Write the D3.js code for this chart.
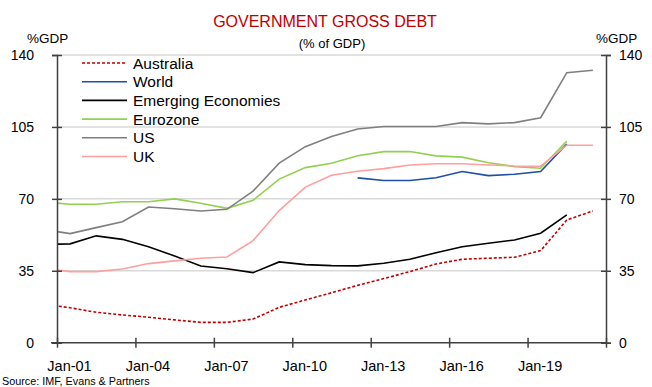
<!DOCTYPE html>
<html>
<head>
<meta charset="utf-8">
<script src="https://cdn.jsdelivr.net/npm/d3@7"></script>
<style>
  body { margin: 0; background: #fff; }
  text { font-family: "Liberation Sans", Arial, sans-serif; fill: #000; }
  .grid line { stroke: #d9d9d9; stroke-width: 1.5; }
  .axis path, .axis line { stroke: #404040; stroke-width: 1.5; }
  .series { fill: none; stroke-width: 1.6; }
</style>
</head>
<body>
<script>
// years (plotted at mid-year)
var years = d3.range(2000, 2022);

// % of GDP, one value per year (null = no data)
var australia = [18.8, 17.0, 14.8, 13.5, 12.4, 11.1, 9.9, 9.9, 11.5, 17.2, 20.8, 24.3, 27.9, 31.2, 34.6, 38.3, 40.6, 41.1, 41.6, 44.8, 59.7, 64.1];
var world = [null, null, null, null, null, null, null, null, null, null, null, null, 80.2, 78.9, 78.9, 80.3, 83.3, 81.3, 82.0, 83.3, 96.7, null];
var emerging = [47.8, 48.1, 52.0, 50.3, 46.7, 42.2, 37.3, 36.0, 34.1, 39.3, 38.0, 37.5, 37.4, 38.7, 40.6, 43.8, 46.7, 48.4, 50.0, 53.3, 62.2, null];
var eurozone = [68.4, 67.4, 67.4, 68.6, 68.6, 70.0, 67.9, 65.4, 69.3, 79.6, 85.2, 87.3, 91.0, 93.0, 93.0, 90.9, 90.3, 87.6, 85.7, 84.9, 98.1, null];
var us = [55.0, 53.1, 56.0, 58.9, 66.0, 65.2, 64.1, 64.9, 73.8, 87.4, 95.4, 100.3, 104.0, 105.2, 105.2, 105.2, 107.1, 106.5, 107.1, 109.5, 131.4, 132.6];
var uk = [36.2, 34.6, 34.6, 35.9, 38.5, 39.8, 41.1, 41.7, 49.7, 64.3, 75.7, 81.5, 83.4, 84.7, 86.5, 87.1, 87.1, 86.5, 86.0, 85.9, 96.1, 96.1];

var seriesNames = ["Australia", "World", "Emerging Economies", "Eurozone", "US", "UK"];
var seriesValues = [australia, world, emerging, eurozone, us, uk];
var seriesColors = ["#c00000", "#1f4ea5", "#000000", "#92d050", "#7f7f7f", "#ff9f9f"];

var yTicks = [0, 35, 70, 105, 140];
var xTickYears = [2001, 2004, 2007, 2010, 2013, 2016, 2019, 2022];
var xLabels = ["Jan-01", "Jan-04", "Jan-07", "Jan-10", "Jan-13", "Jan-16", "Jan-19", ""];

var width = 652, height = 387;
var plotLeft = 57, plotRight = 606, plotTop = 55, plotBottom = 342.7;

var svg = d3.select("body").append("svg")
    .attr("width", width)
    .attr("height", height);

var x = d3.scaleLinear().domain([2001, 2022]).range([plotLeft, plotRight]);
var y = d3.scaleLinear().domain([0, 140]).range([plotBottom, plotTop]);

// title
svg.append("text")
    .attr("x", 325).attr("y", 27)
    .attr("text-anchor", "middle")
    .style("font-size", "16px")
    .style("fill", "#c00000")
    .text("GOVERNMENT GROSS DEBT");
svg.append("text")
    .attr("x", 332).attr("y", 48)
    .attr("text-anchor", "middle")
    .style("font-size", "13px")
    .text("(% of GDP)");

svg.append("text").attr("x", 27).attr("y", 43).style("font-size", "13.5px").text("%GDP");
svg.append("text").attr("x", 596).attr("y", 43).style("font-size", "13.5px").text("%GDP");

// gridlines
svg.append("g").attr("class", "grid")
    .selectAll("line")
    .data(yTicks.slice(1))
    .enter().append("line")
    .attr("x1", plotLeft).attr("x2", plotRight)
    .attr("y1", function(d){ return y(d); })
    .attr("y2", function(d){ return y(d); });

// clip to plot area
svg.append("clipPath").attr("id", "plot")
    .append("rect")
    .attr("x", plotLeft).attr("y", 0)
    .attr("width", plotRight - plotLeft).attr("height", height);

var line = d3.line()
    .defined(function(d){ return d != null; })
    .x(function(d, i){ return x(years[i] + 0.5); })
    .y(function(d){ return y(d); });

var lines = svg.append("g").attr("clip-path", "url(#plot)");
seriesValues.forEach(function(vals, i){
    lines.append("path")
        .datum(vals)
        .attr("class", "series")
        .attr("d", line)
        .style("stroke", seriesColors[i])
        .style("stroke-dasharray", i == 0 ? "3,2" : null);
});

// axes
var yLeft = d3.axisLeft(y).tickValues(yTicks).tickSize(5).tickPadding(18);
svg.append("g").attr("class", "axis")
    .attr("transform", "translate(" + plotLeft + ",0)")
    .call(yLeft)
    .call(function(g){
        g.selectAll(".tick line").attr("x2", -5).attr("x1", 5);
        g.selectAll("text").style("font-size", "14px");
    });

var yRight = d3.axisRight(y).tickValues(yTicks).tickSize(5).tickPadding(8);
svg.append("g").attr("class", "axis")
    .attr("transform", "translate(" + plotRight + ",0)")
    .call(yRight)
    .call(function(g){
        g.selectAll(".tick line").attr("x1", -5).attr("x2", 5);
        g.selectAll("text").style("font-size", "14px");
    });

var xAxis = d3.axisBottom(x).tickValues(xTickYears)
    .tickFormat(function(d, i){ return xLabels[i]; })
    .tickSize(5).tickPadding(13);
svg.append("g").attr("class", "axis")
    .attr("transform", "translate(0," + plotBottom + ")")
    .call(xAxis)
    .call(function(g){
        g.select(".domain").attr("d", "M" + (plotLeft - 6) + ",0H" + plotRight);
        g.selectAll(".tick line").attr("y1", -5).attr("y2", 5);
        g.selectAll("text").attr("dx", 12).style("font-size", "14.5px");
    });

// legend
var legend = svg.append("g").attr("transform", "translate(82,63)");
seriesNames.forEach(function(name, i){
    var row = legend.append("g").attr("transform", "translate(0," + (i * 18.7) + ")");
    row.append("line")
        .attr("x1", 0).attr("x2", 45)
        .style("stroke", seriesColors[i])
        .style("stroke-width", 1.6)
        .style("stroke-dasharray", i == 0 ? "3,2" : null);
    row.append("text")
        .attr("x", 51).attr("y", 5.5)
        .style("font-size", "15.5px")
        .text(name);
});

svg.append("text").attr("x", 2).attr("y", 385)
    .style("font-size", "10.8px")
    .text("Source: IMF, Evans & Partners");
</script>
</body>
</html>
